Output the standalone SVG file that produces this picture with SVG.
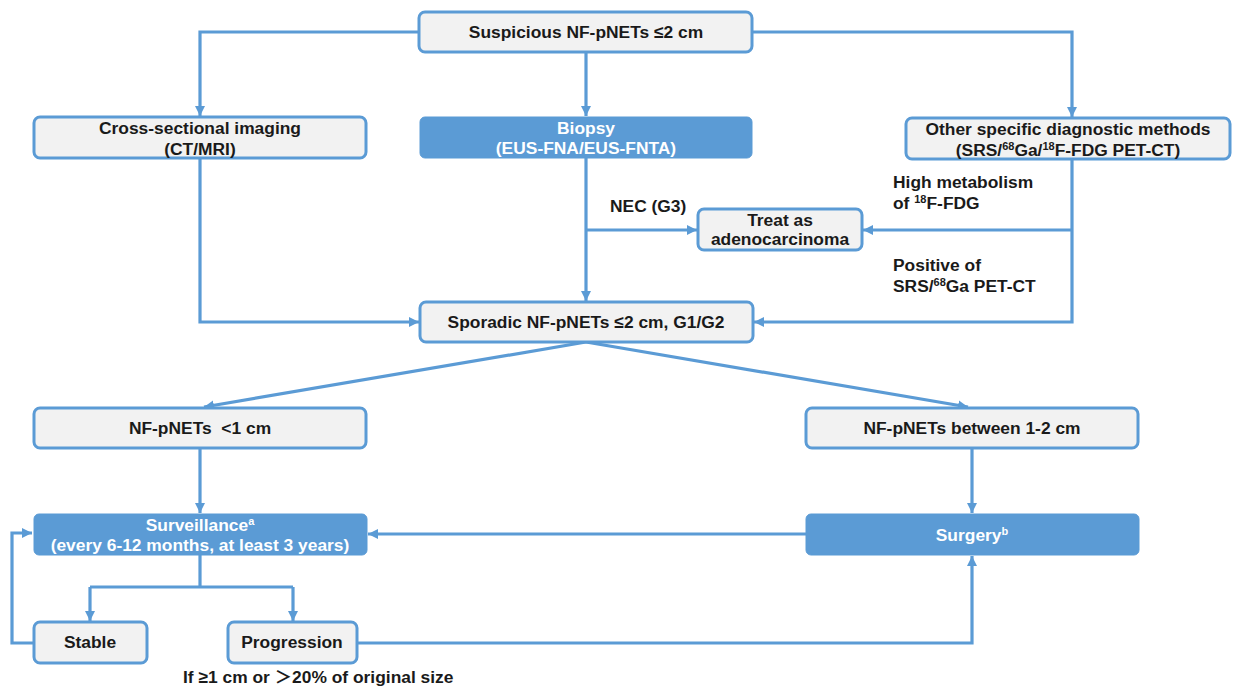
<svg xmlns="http://www.w3.org/2000/svg" width="1236" height="690" viewBox="0 0 1236 690">
<style>
.box{fill:#f2f2f2;stroke:#5b9bd5;stroke-width:3}
.fbox{fill:#5b9bd5;stroke:#5b9bd5;stroke-width:1}
.t{font-family:"Liberation Sans","Noto Sans CJK SC",sans-serif;font-weight:bold;font-size:17.4px;fill:#1a1a1a;text-anchor:middle}
.w{fill:#ffffff}
.l{text-anchor:start}
.c{fill:none;stroke:#5b9bd5;stroke-width:3.2}
</style>
<defs>
<marker id="ah" markerUnits="userSpaceOnUse" markerWidth="12" markerHeight="12" refX="10" refY="5" orient="auto">
<path d="M0,0 L10,5 L0,10 z" fill="#5b9bd5"/>
</marker>
</defs>
<rect width="1236" height="690" fill="#ffffff"/>
<g id="connectors">
<path class="c" d="M419,32 H200 V116" marker-end="url(#ah)"/>
<path class="c" d="M586,52 V116" marker-end="url(#ah)"/>
<path class="c" d="M752,32 H1072 V117" marker-end="url(#ah)"/>
<path class="c" d="M200,158 V322 H419" marker-end="url(#ah)"/>
<path class="c" d="M586,158 V301" marker-end="url(#ah)"/>
<path class="c" d="M586,230 H697" marker-end="url(#ah)"/>
<path class="c" d="M1072,160 V322 H754" marker-end="url(#ah)"/>
<path class="c" d="M1072,230 H863" marker-end="url(#ah)"/>
<path class="c" d="M586,342 L204,407" marker-end="url(#ah)"/>
<path class="c" d="M586,342 L968,407" marker-end="url(#ah)"/>
<path class="c" d="M200,448 V513" marker-end="url(#ah)"/>
<path class="c" d="M972,448 V513" marker-end="url(#ah)"/>
<path class="c" d="M806,534 H368" marker-end="url(#ah)"/>
<path class="c" d="M200,555 V587"/>
<path class="c" d="M90,587 H293"/>
<path class="c" d="M90,587 V621" marker-end="url(#ah)"/>
<path class="c" d="M293,587 V621" marker-end="url(#ah)"/>
<path class="c" d="M34,643 H12 V533 H32" marker-end="url(#ah)"/>
<path class="c" d="M357,643 H972 V556" marker-end="url(#ah)"/>
</g>
<g id="edge-labels">
<text class="t l" x="610" y="212">NEC (G3)</text>
<text class="t l" x="893" y="188">High metabolism</text>
<text class="t l" x="893" y="209">of <tspan font-size="11" dy="-6">18</tspan><tspan dy="6">F-FDG</tspan></text>
<text class="t l" x="893" y="271">Positive of</text>
<text class="t l" x="893" y="292">SRS/<tspan font-size="11" dy="-6">68</tspan><tspan dy="6">Ga PET-CT</tspan></text>
<text class="t l" x="183" y="683">If ≥1 cm or ＞20% of original size</text>
</g>
<g id="n-suspicious">
<rect class="box" x="419" y="12" width="333" height="40" rx="6"/>
<text class="t" x="586" y="38">Suspicious NF-pNETs ≤2 cm</text>
</g>
<g id="n-cross">
<rect class="box" x="34" y="117" width="332" height="41" rx="6"/>
<text class="t" x="200" y="134">Cross-sectional imaging</text>
<text class="t" x="200" y="155">(CT/MRI)</text>
</g>
<g id="n-biopsy">
<rect class="fbox" x="420" y="117" width="332" height="41" rx="5"/>
<text class="t w" x="586" y="134">Biopsy</text>
<text class="t w" x="586" y="154">(EUS-FNA/EUS-FNTA)</text>
</g>
<g id="n-other">
<rect class="box" x="906" y="118" width="324" height="41" rx="6"/>
<text class="t" x="1068" y="135">Other specific diagnostic methods</text>
<text class="t" x="1068" y="156">(SRS/<tspan font-size="11" dy="-6">68</tspan><tspan dy="6">Ga/</tspan><tspan font-size="11" dy="-6">18</tspan><tspan dy="6">F-FDG PET-CT)</tspan></text>
</g>
<g id="n-treat">
<rect class="box" x="698" y="209" width="164" height="41" rx="6"/>
<text class="t" x="780" y="226">Treat as</text>
<text class="t" x="780" y="245">adenocarcinoma</text>
</g>
<g id="n-sporadic">
<rect class="box" x="420" y="302" width="333" height="40" rx="6"/>
<text class="t" x="586" y="328">Sporadic NF-pNETs ≤2 cm, G1/G2</text>
</g>
<g id="n-lt1">
<rect class="box" x="34" y="408" width="332" height="40" rx="6"/>
<text class="t" x="200" y="434" xml:space="preserve">NF-pNETs  &lt;1 cm</text>
</g>
<g id="n-1to2">
<rect class="box" x="806" y="408" width="332" height="40" rx="6"/>
<text class="t" x="972" y="434">NF-pNETs between 1-2 cm</text>
</g>
<g id="n-surveillance">
<rect class="fbox" x="34" y="514" width="333" height="41" rx="5"/>
<text class="t w" x="200" y="531">Surveillance<tspan font-size="11" dy="-6">a</tspan></text>
<text class="t w" x="200" y="551">(every 6-12 months, at least 3 years)</text>
</g>
<g id="n-surgery">
<rect class="fbox" x="806" y="514" width="333" height="41" rx="5"/>
<text class="t w" x="972" y="541">Surgery<tspan font-size="11" dy="-6">b</tspan></text>
</g>
<g id="n-stable">
<rect class="box" x="34" y="622" width="113" height="41" rx="6"/>
<text class="t" x="90" y="648">Stable</text>
</g>
<g id="n-progression">
<rect class="box" x="228" y="622" width="129" height="41" rx="6"/>
<text class="t" x="292" y="648">Progression</text>
</g>
</svg>
